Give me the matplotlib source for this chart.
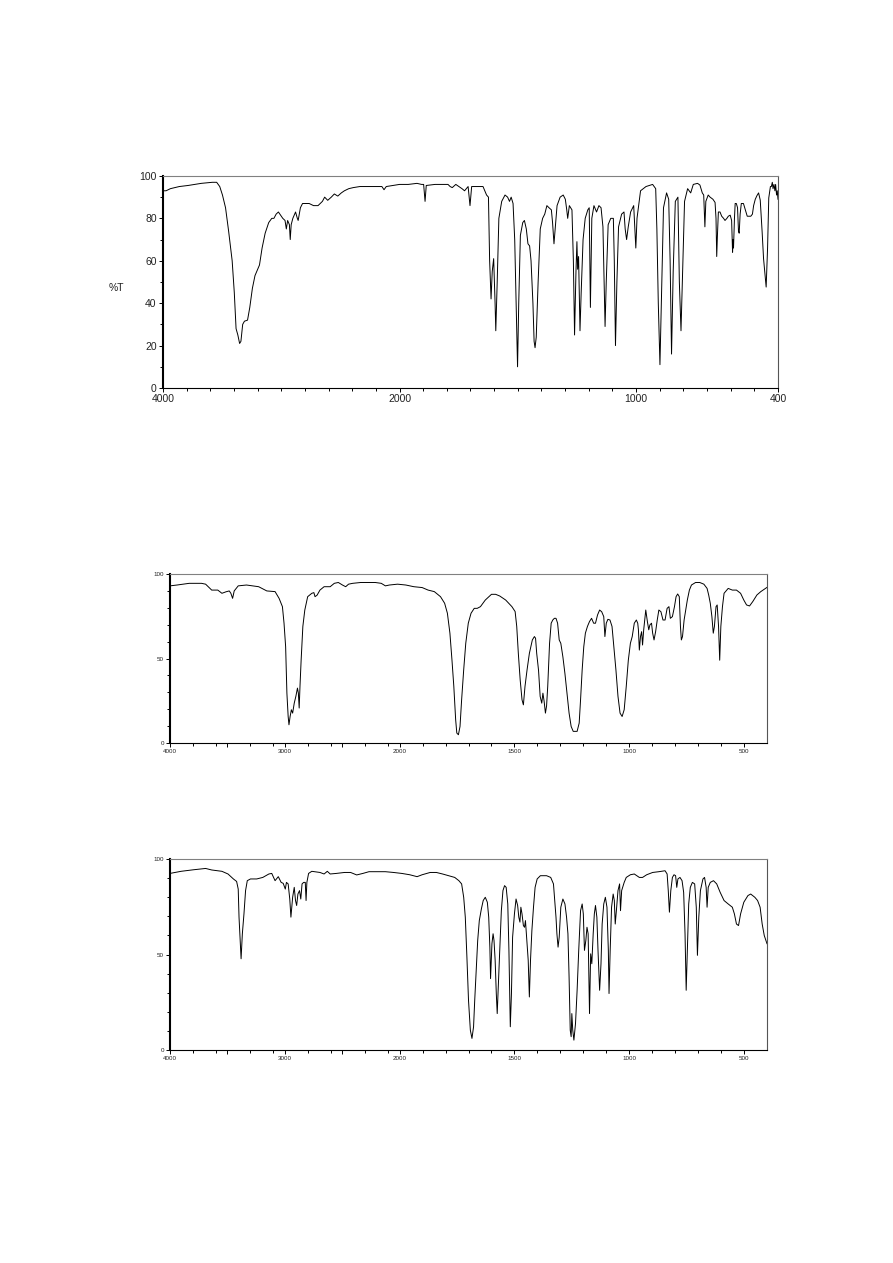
import matplotlib
matplotlib.use('Agg')  # no display
import matplotlib.pyplot as plt
import numpy as np

plt.rcParams['font.family'] = ['Liberation Sans', 'DejaVu Sans']

# ---- spectrum 1 (wavenumber cm-1, %T) ----
p1_wn = [
    4000, 3974, 3937, 3862, 3788, 3676, 3583, 3546, 3520, 3497,
    3471, 3445, 3415, 3397, 3382, 3367, 3352, 3341, 3326, 3311,
    3285, 3266, 3244, 3222, 3199, 3184, 3162, 3136, 3106, 3080,
    3062, 3043, 3024, 3005, 2987, 2968, 2957, 2946, 2931, 2924,
    2916, 2902, 2879, 2864, 2857, 2838, 2820, 2764, 2727, 2689,
    2652, 2633, 2607, 2577, 2551, 2522, 2492, 2466, 2429, 2391,
    2335, 2224, 2149, 2131, 2112, 2000, 1963, 1926, 1907, 1898,
    1892, 1887, 1850, 1795, 1786, 1777, 1762, 1749, 1736, 1725,
    1710, 1702, 1695, 1665, 1647, 1632, 1624, 1619, 1613, 1608,
    1602, 1596, 1593, 1587, 1580, 1568, 1554, 1543, 1535, 1528,
    1520, 1513, 1507, 1501, 1496, 1489, 1479, 1472, 1464, 1457,
    1450, 1444, 1436, 1431, 1427, 1422, 1414, 1405, 1395, 1386,
    1377, 1368, 1358, 1353, 1347, 1342, 1334, 1321, 1308, 1299,
    1293, 1289, 1282, 1271, 1265, 1260, 1254, 1250, 1247, 1243,
    1237, 1232, 1224, 1215, 1204, 1198, 1193, 1187, 1178, 1167,
    1157, 1148, 1140, 1135, 1131, 1126, 1118, 1107, 1096, 1092,
    1087, 1081, 1074, 1061, 1051, 1046, 1040, 1033, 1023, 1010,
    1005, 1001, 996, 981, 958, 930, 917, 912, 906, 899,
    891, 884, 871, 862, 856, 850, 843, 834, 823, 817,
    810, 802, 795, 782, 769, 758, 740, 730, 720, 714,
    709, 705, 695, 687, 675, 666, 662, 659, 656, 652,
    645, 638, 630, 624, 616, 610, 602, 596, 592, 590,
    588, 584, 581, 576, 571, 567, 564, 560, 555, 546,
    538, 530, 522, 515, 508, 503, 496, 489, 482, 475,
    471, 467, 461, 450, 444, 439, 432, 428, 424, 421,
    417, 413, 410, 406, 403, 400]
p1_t = [
    93, 93, 94, 95, 95.5, 96.5, 97, 97, 95, 91,
    85, 74, 60, 45, 28, 25, 21, 22, 30, 31.5,
    32, 38, 47, 53, 56, 58, 66, 73, 78, 80,
    80, 82, 83, 81.5, 80, 79, 75, 79, 77, 70,
    77, 80, 83, 80, 79, 85, 87, 87, 86, 86,
    88, 90, 88.5, 90, 91.5, 90.5, 92, 93, 94, 94.5,
    95, 95, 95, 93.5, 95, 96, 96, 96.5, 96, 96,
    88, 95.5, 96, 96, 95, 94.5, 96, 95, 94, 93,
    95, 86, 95, 95, 95, 91, 90, 60, 42, 55,
    61, 40, 27, 50, 80, 88, 91, 90, 88, 90,
    87, 70, 40, 10, 40, 72, 78, 79, 75, 68,
    67, 60, 40, 22, 19, 24, 50, 75, 80, 82,
    86, 85, 84, 78, 68, 75, 86, 90, 91, 89,
    84, 80, 86, 84, 60, 25, 55, 69, 56, 62,
    27, 45, 70, 80, 84, 85, 38, 80, 86, 83,
    86, 85, 76, 50, 29, 50, 77, 80, 80, 60,
    20, 50, 76, 82, 83, 75, 70, 76, 83, 86,
    75, 66, 80, 93, 95, 96, 94, 75, 40, 11,
    50, 85, 92, 89, 60, 16, 55, 88, 90, 50,
    27, 60, 88, 94, 92, 96, 96.5, 95.7, 92, 91,
    76, 88, 91, 90, 89, 87.5, 80, 62, 72, 83,
    83, 81, 80, 79, 80, 81, 81.5, 79, 64, 70,
    66, 80, 87, 87, 85, 74, 73, 82, 87, 87,
    84, 81, 81, 81, 82, 86, 89, 90.7, 92, 88.6,
    81.5, 73.6, 61, 47.6, 66, 89.6, 95, 95, 97, 94,
    96, 93, 96, 91, 93, 89]

# ---- spectrum 2 ----
p2_wn = [
    4000, 3939, 3833, 3726, 3690, 3637, 3584, 3548, 3512, 3484,
    3470, 3455, 3441, 3406, 3334, 3228, 3157, 3085, 3050, 3021,
    3007, 2993, 2982, 2971, 2964, 2954, 2943, 2932, 2918, 2904,
    2890, 2882, 2875, 2868, 2858, 2843, 2826, 2801, 2765, 2747,
    2737, 2719, 2694, 2658, 2605, 2569, 2534, 2498, 2470, 2445,
    2409, 2338, 2267, 2213, 2160, 2124, 2089, 2018, 1973, 1938,
    1902, 1876, 1849, 1822, 1804, 1792, 1781, 1772, 1764, 1756,
    1751, 1744, 1737, 1730, 1721, 1712, 1701, 1689, 1675, 1662,
    1648, 1627, 1600, 1582, 1564, 1538, 1511, 1497, 1490, 1483,
    1475, 1467, 1461, 1454, 1445, 1435, 1422, 1413, 1408, 1403,
    1395, 1388, 1381, 1376, 1371, 1365, 1360, 1355, 1347, 1340,
    1333, 1326, 1319, 1312, 1305, 1298, 1289, 1280, 1271, 1262,
    1253, 1244, 1227, 1218, 1212, 1205, 1198, 1191, 1182, 1173,
    1164, 1155, 1147, 1138, 1129, 1120, 1111, 1106, 1100, 1093,
    1084, 1075, 1067, 1058, 1049, 1040, 1031, 1022, 1013, 1004,
    995, 987, 978, 969, 963, 960, 956, 951, 946, 942,
    937, 928, 921, 915, 910, 903, 898, 892, 885, 878,
    871, 862, 853, 844, 835, 827, 821, 812, 803, 796,
    789, 782, 777, 773, 768, 761, 754, 747, 738, 729,
    711, 693, 675, 661, 654, 647, 640, 634, 629, 622,
    617, 611, 606, 601, 594, 587, 569, 551, 533, 515,
    501, 489, 476, 462, 444, 427, 400]
p2_t = [
    93, 93.5, 94.5, 94.5, 94, 90.5, 90.5, 88.6, 89.5, 90,
    88.6, 85.6, 90, 93, 93.5, 92.5, 90, 89.6, 85.6, 80.7,
    70.9, 57, 29.5, 15.7, 10.8, 15.7, 19.7, 17.7, 23.6, 27.6,
    32.5, 29.5, 20.7, 33.5, 49, 69, 78.7, 86.6, 88.6, 89,
    86.6, 87.5, 90.5, 92.5, 92.5, 94.5, 95, 93.5, 92.5, 94,
    94.5, 95, 95, 95, 94.5, 93, 93.5, 94, 93.5, 92.5,
    92, 90.5, 89.6, 86.6, 82.7, 76.8, 65, 49, 33.5, 13.8,
    5.9, 4.9, 9.8, 25.6, 43.3, 59, 70.9, 76.8, 79.7, 79.7,
    80.7, 84.6, 88, 88, 87, 84.6, 80.7, 77.8, 69, 53,
    37.4, 25.6, 22.6, 33.5, 43.3, 53, 61, 63, 62, 53,
    43, 27.6, 23.6, 29.5, 25, 17.7, 22, 33.5, 59, 70.9,
    72.8, 73.8, 73.8, 70.9, 61, 59, 51, 41, 29.5, 17.7,
    9.8, 6.9, 6.9, 11.8, 25.6, 43.3, 57, 65, 69, 71.9,
    73.8, 70.9, 70.9, 75.8, 78.7, 77.7, 74.8, 63, 70.9, 73.2,
    72.8, 69, 57, 43.3, 27.6, 17.7, 15.7, 19.7, 33.5, 49,
    59, 63, 70.9, 72.8, 70.9, 67, 55, 63, 65.9, 58,
    67, 78.7, 71.9, 67, 69.9, 70.9, 65, 61, 66, 72.8,
    78.7, 77.7, 72.8, 72.8, 79.7, 80.7, 73.8, 74.8, 80.7, 86.6,
    88.2, 86.6, 69, 61, 63, 72.8, 78.7, 84.6, 90.5, 93.5,
    95, 95, 94, 91.5, 87.6, 82.7, 74.8, 65, 69, 80.7,
    81.7, 69, 49, 69, 80.7, 88.6, 91.5, 90.5, 90.5, 88.6,
    84.6, 81.7, 81.1, 83.7, 87.6, 89.6, 92.1]

# ---- spectrum 3 ----
p3_wn = [
    4000, 3904, 3797, 3690, 3637, 3548, 3495, 3448, 3420, 3406,
    3399, 3388, 3381, 3370, 3356, 3342, 3327, 3299, 3245, 3192,
    3139, 3114, 3085, 3057, 3032, 3014, 2996, 2986, 2971, 2957,
    2947, 2932, 2918, 2907, 2897, 2886, 2872, 2861, 2850, 2836,
    2822, 2815, 2808, 2793, 2765, 2694, 2658, 2630, 2605, 2551,
    2480, 2427, 2374, 2320, 2267, 2124, 2053, 1991, 1956, 1924,
    1902, 1867, 1840, 1813, 1787, 1760, 1742, 1730, 1721, 1714,
    1707, 1700, 1692, 1685, 1678, 1673, 1666, 1660, 1653, 1644,
    1636, 1627, 1618, 1612, 1607, 1604, 1598, 1593, 1589, 1584,
    1579, 1575, 1570, 1564, 1557, 1550, 1543, 1536, 1529, 1524,
    1518, 1513, 1508, 1500, 1493, 1486, 1481, 1476, 1472, 1467,
    1461, 1456, 1452, 1447, 1440, 1435, 1430, 1424, 1417, 1410,
    1401, 1387, 1360, 1342, 1330, 1319, 1315, 1310, 1305, 1298,
    1289, 1280, 1273, 1267, 1262, 1257, 1253, 1250, 1246, 1241,
    1234, 1227, 1220, 1212, 1205, 1200, 1195, 1189, 1184, 1179,
    1173, 1168, 1163, 1157, 1152, 1147, 1141, 1136, 1129, 1123,
    1118, 1111, 1104, 1097, 1091, 1088, 1083, 1077, 1070, 1065,
    1061, 1056, 1049, 1042, 1038, 1033, 1022, 1013, 995, 978,
    956, 942, 924, 898, 871, 844, 835, 830, 825, 819,
    812, 805, 798, 793, 788, 779, 770, 763, 757, 752,
    747, 741, 734, 725, 715, 708, 703, 697, 690, 679,
    672, 665, 661, 656, 647, 633, 619, 604, 587, 569,
    551, 542, 533, 524, 515, 501, 483, 471, 453, 441,
    430, 421, 412, 400]
p3_t = [
    92.5, 93.6, 94.4, 95.1, 94.3, 93.6, 92.2, 89.6, 88.3, 84.3,
    69.6, 55.7, 47.8, 60.9, 71.3, 83.5, 88.7, 89.6, 89.6, 90.4,
    92.2, 92.5, 88.7, 90.8, 87.8, 87.3, 84.3, 87.8, 87, 79.1,
    69.6, 80, 85.2, 78.3, 75.7, 81.7, 83.5, 79.1, 87, 87.8,
    87.8, 78.3, 87.8, 92.5, 93.6, 93, 92.2, 93.6, 92.2, 92.5,
    93, 93, 91.7, 92.5, 93.4, 93.4, 93, 92.5, 91.8, 90.8,
    91.8, 93, 93, 92.2, 91.3, 90.4, 88.7, 87, 80, 69.6,
    48.7, 26, 10.4, 6.1, 12.2, 26, 43.5, 57.4, 67.8, 73.9,
    78.3, 80, 77.4, 69.6, 53.9, 37.4, 55.7, 60.9, 57.4, 47,
    29.6, 19.1, 34.8, 52.2, 73, 83.5, 86.1, 85.2, 76.5, 52.2,
    12.2, 29.6, 59.1, 71.3, 79.1, 75.7, 69.6, 67, 74.8, 71.3,
    65.2, 64.3, 67.8, 59.1, 47, 27.8, 47, 62.6, 74.8, 85.2,
    89.6, 91.3, 91.3, 90.4, 87, 69.6, 60.9, 53.9, 59.1, 74.8,
    79.1, 76.5, 69.6, 60.9, 38.3, 10.4, 7, 19.1, 10.4, 5.2,
    13.9, 31.3, 52.2, 73, 76.5, 71.3, 52.2, 57.4, 64.3, 60.9,
    19.1, 50.4, 45.2, 60.9, 71.3, 75.7, 69.6, 52.2, 31.3, 45.2,
    66, 76.5, 80, 74.8, 52.2, 29.6, 52.2, 74.8, 81.7, 78.3,
    66, 73, 83.5, 87, 73, 83.5, 87.8, 90.4, 91.8, 92.2,
    90.4, 90.4, 91.8, 93, 93.4, 93.9, 92.2, 83.5, 72.2, 83.5,
    90.4, 91.8, 91.3, 85.2, 89.6, 90.4, 88.7, 82.6, 60.9, 31.3,
    52.2, 76.5, 85.2, 87.8, 87, 74.8, 49.6, 69.6, 83.5, 89.6,
    90.4, 85.2, 74.8, 85.2, 87.8, 88.7, 87, 82.6, 78.3, 76.5,
    74.8, 71.3, 66, 65.2, 71.3, 77.4, 80.9, 81.7, 80, 78.3,
    74.8, 66, 60, 55.7]

# tick sets
p1_major = [4000, 2000, 1000, 400]
p1_labels = ['4000', '2000', '1000', '400']
p1_minor = list(range(3800, 2000, -200)) + [w for w in range(1900, 400, -100) if w != 1000]

p23_major = [4000, 3500, 3000, 2500, 2000, 1500, 1000, 500]
p23_labels = ['4000', '', '3000', '', '2000', '1500', '1000', '500']
p23_minor = [3800, 3600, 3300, 3100, 2800, 2600, 2300, 2100] + \
    [w for w in range(1900, 400, -100) if w % 500 != 0]


# IR charts: 4000-2000 drawn at half the density of 2000-400
def _fwd(w):
    w = np.asarray(w, dtype=float)
    return np.where(w > 2000, 2000 + (w - 2000) / 2.0, w)


def _inv(v):
    v = np.asarray(v, dtype=float)
    return np.where(v > 2000, 2000 + (v - 2000) * 2.0, v)


def setup_axis(ax, major, labels, minor, yticks, ylabels, fsize):
    ax.set_xscale('function', functions=(_fwd, _inv))
    ax.set_xlim(4000, 400)
    ax.set_ylim(0, 100)
    ax.set_xticks(major)
    ax.set_xticklabels(labels)
    ax.set_xticks(minor, minor=True)
    ax.set_yticks(yticks)
    ax.set_yticklabels(ylabels)
    ax.set_yticks([v for v in range(0, 101, 10) if v not in yticks], minor=True)
    ax.tick_params(which='both', direction='out', width=0.7, colors='black',
                   labelsize=fsize, labelcolor='#222222', pad=1.5)
    ax.tick_params(which='major', length=3)
    ax.tick_params(which='minor', length=2)
    ax.spines['left'].set_linewidth(1.5)
    ax.spines['left'].set_color('black')
    ax.spines['bottom'].set_linewidth(0.8)
    ax.spines['bottom'].set_color('black')
    ax.spines['top'].set_linewidth(0.8)
    ax.spines['top'].set_color('#808080')
    ax.spines['right'].set_linewidth(0.8)
    ax.spines['right'].set_color('#555555')


fig = plt.figure(figsize=(8.93, 12.63), dpi=100)

# spectrum 1
ax1 = fig.add_axes([0.1825, 0.6928, 0.6887, 0.1679])
ax1.plot(p1_wn, p1_t, color='black', lw=0.7)
setup_axis(ax1, p1_major, p1_labels, p1_minor,
           [0, 20, 40, 60, 80, 100], ['0', '20', '40', '60', '80', '100'], 7.5)
ax1.set_ylabel('%T', rotation=0, fontsize=7.5, color='#222222', va='center')
ax1.yaxis.set_label_coords(-0.075, 0.47)

# spectrum 2
ax2 = fig.add_axes([0.1904, 0.4117, 0.6685, 0.1338])
ax2.plot(p2_wn, p2_t, color='black', lw=0.7)
setup_axis(ax2, p23_major, p23_labels, p23_minor, [0, 50, 100], ['0', '50', '100'], 4.5)

# spectrum 3
ax3 = fig.add_axes([0.1904, 0.1686, 0.6685, 0.1512])
ax3.plot(p3_wn, p3_t, color='black', lw=0.7)
setup_axis(ax3, p23_major, p23_labels, p23_minor, [0, 50, 100], ['0', '50', '100'], 4.5)

plt.savefig('out.png', dpi=100)
plt.close(fig)
